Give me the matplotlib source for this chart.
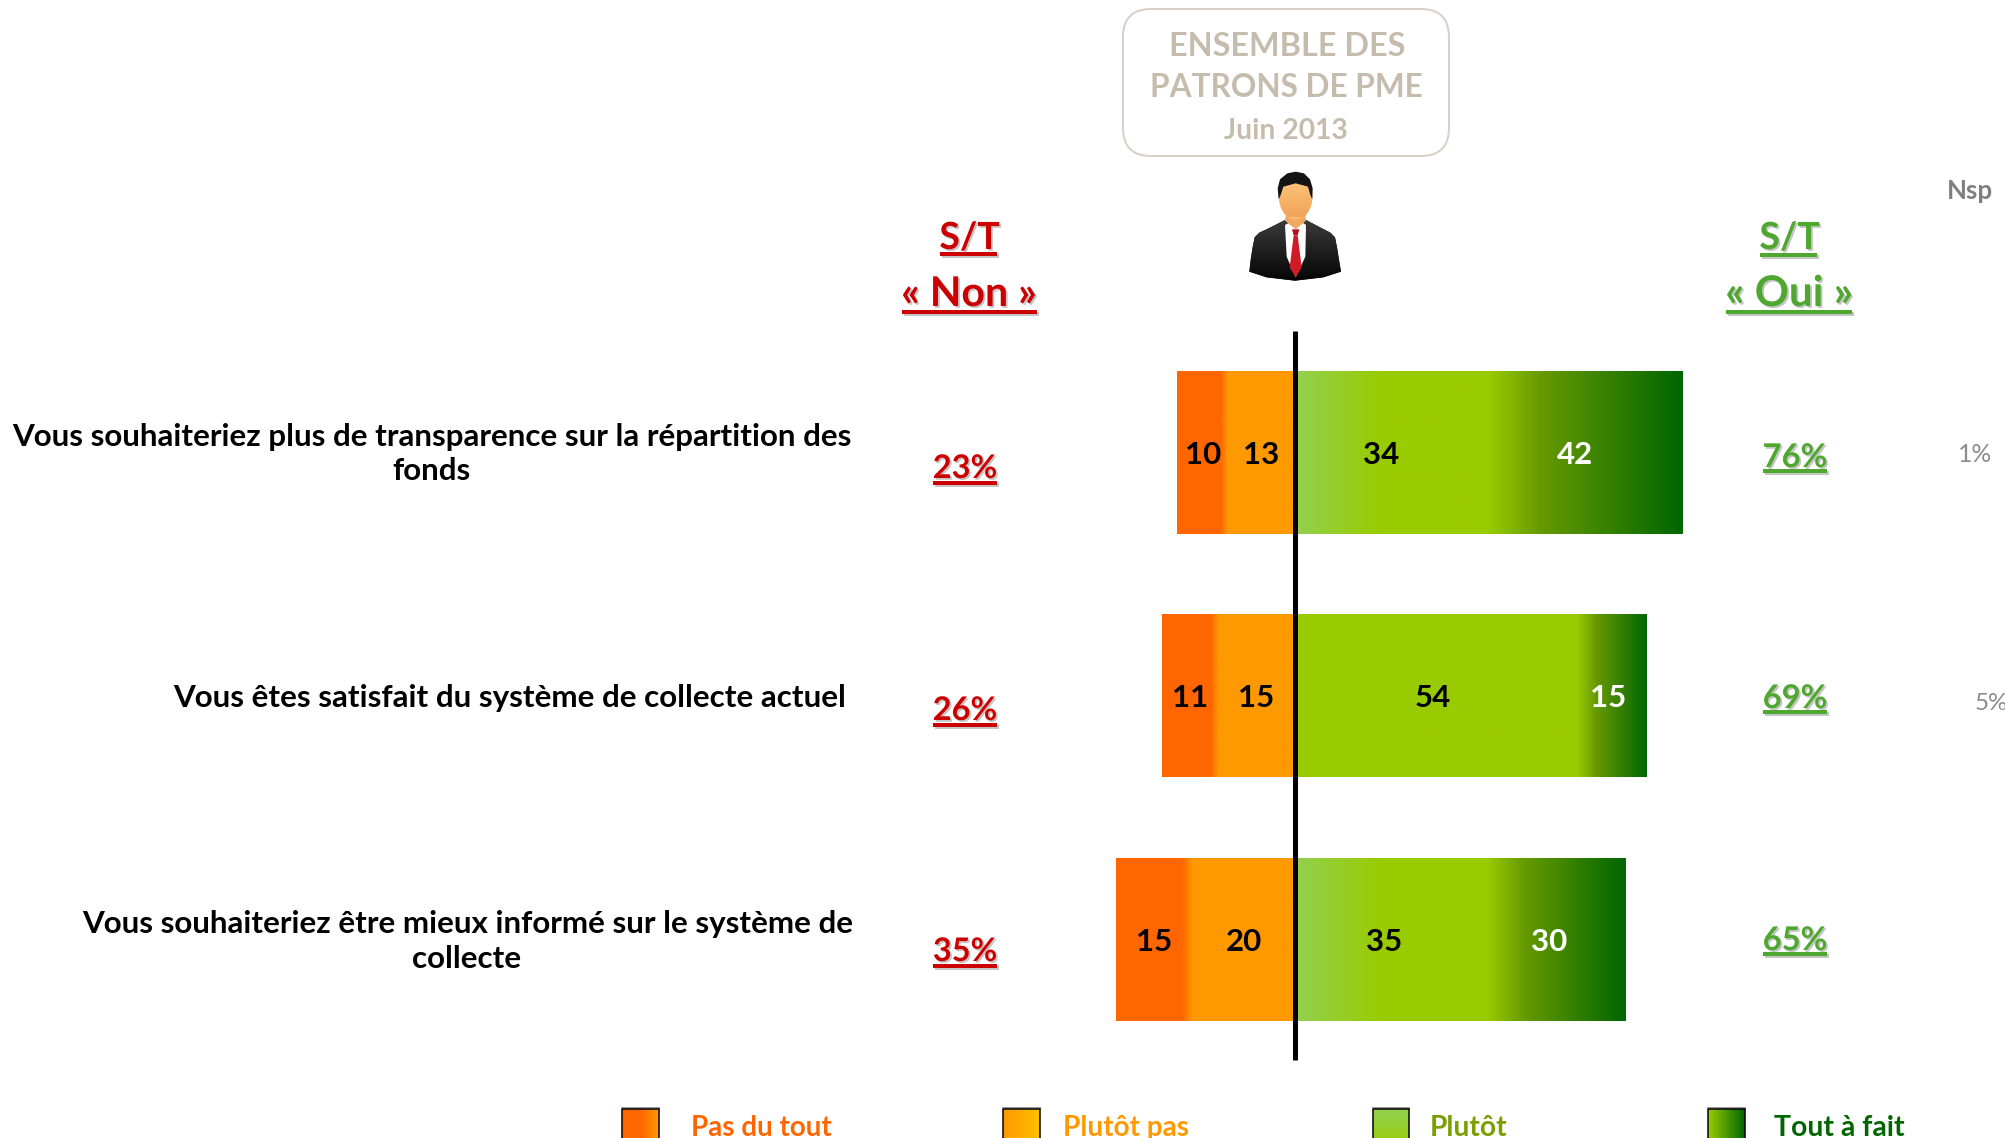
import numpy as np
import matplotlib
matplotlib.use("Agg")
import matplotlib.pyplot as plt
from matplotlib.colors import LinearSegmentedColormap as LSC
from matplotlib.font_manager import FontProperties
from matplotlib.patches import FancyBboxPatch, Polygon, Ellipse, Rectangle
from matplotlib.textpath import TextPath
import matplotlib.patheffects as pe

# ---------- data ----------
questions = [
    ["Vous souhaiteriez plus de transparence sur la répartition des", "fonds"],
    ["Vous êtes satisfait du système de collecte actuel"],
    ["Vous souhaiteriez être mieux informé sur le système de", "collecte"],
]
pas_du_tout = [10, 11, 15]
plutot_pas = [13, 15, 20]
plutot = [34, 54, 35]
tout_a_fait = [42, 15, 30]
st_non = [23, 26, 35]
st_oui = [76, 69, 65]
nsp = [1, 5, None]
legend_labels = ["Pas du tout", "Plutôt pas", "Plutôt", "Tout à fait"]

# ---------- style ----------
W, H, DPI = 2006, 1138, 100
FONT = "Lato"
ORANGE, AMBER, LIME, DARK = "#FF6600", "#FF9900", "#99CC00", "#006600"
LIGHT, MID = "#92D050", "#669900"
RED, GREEN, TAUPE = "#CC0000", "#4EA72E", "#C6BCAE"
ZERO_PX, PX_PER_UNIT = 1294.6, 5.1
ROW0_PX, ROW_STEP = 452.5, 243.5
BAR_H = 163 / ROW_STEP

fig = plt.figure(figsize=(W / DPI, H / DPI), dpi=DPI, facecolor="white")
ax = fig.add_axes([0, 0, 1, 1], zorder=1)
ov = fig.add_axes([0, 0, 1, 1], zorder=2)
ov.patch.set_alpha(0)
ov.set_xlim(0, W)
ov.set_ylim(H, 0)
ov.axis("off")
ax.axis("off")


def fit(txt, width, weight="bold"):
    """Font size in points giving `txt` the requested pixel width."""
    fp = FontProperties(family=FONT, weight=weight, size=100)
    w = TextPath((0, 0), txt, prop=fp).get_extents().width
    return 100 * width / w * 72 / DPI


def grad_bar(y, left, width, stops):
    bar = ax.barh(y, width, left=left, height=BAR_H, color=stops[-1][1], linewidth=0)[0]
    cmap = LSC.from_list("g", stops, N=512)
    im = ax.imshow(np.linspace(0, 1, 512)[None, :], cmap=cmap, vmin=0, vmax=1, aspect="auto",
                   extent=(left, left + width, y + BAR_H / 2, y - BAR_H / 2),
                   interpolation="bilinear", zorder=2)
    im.set_clip_path(bar)


# ---------- bars ----------
stops_pdt = [(0, ORANGE), (0.86, ORANGE), (1, AMBER)]
stops_pp = [(0, AMBER), (1, AMBER)]
stops_plutot_light = [(0, LIGHT), (0.5, LIME), (1, LIME)]
stops_plutot_flat = [(0, LIME), (1, LIME)]
stops_taf = [(0, LIME), (0.09, LIME), (0.34, MID), (1, DARK)]

for i in range(len(questions)):
    a, b, c, d = pas_du_tout[i], plutot_pas[i], plutot[i], tout_a_fait[i]
    grad_bar(i, -(a + b), a, stops_pdt)
    grad_bar(i, -b, b, stops_pp)
    grad_bar(i, 0, c, stops_plutot_flat if c > 50 else stops_plutot_light)
    grad_bar(i, c, d, stops_taf)
    for val, cx, col in [(a, -(b + a / 2), "black"), (b, -b / 2, "black"),
                         (c, c / 2, "black"), (d, c + d / 2, "white")]:
        ax.text(cx, i, str(val), ha="center", va="center_baseline", color=col,
                family=FONT, weight="bold", fontsize=22.5, zorder=4)

ax.plot([0, 0], [-0.5, 2.495], color="black", lw=5 * 72 / DPI, solid_capstyle="butt", zorder=3)
ax.set_xlim(-ZERO_PX / PX_PER_UNIT, (W - ZERO_PX) / PX_PER_UNIT)
ax.set_ylim((H - ROW0_PX) / ROW_STEP, -ROW0_PX / ROW_STEP)

# ---------- question labels ----------
q_size = fit(questions[0][0], 839)
q_pos = [[(432, 434), (432, 468)], [(510, 695)], [(467.5, 921), (467, 956)]]
for lines, pos in zip(questions, q_pos):
    for ln, (x, y) in zip(lines, pos):
        ov.text(x, y, ln, ha="center", va="center_baseline", family=FONT, weight="bold",
                fontsize=q_size, color="black")

# ---------- S/T columns ----------
shadow = [pe.withSimplePatchShadow(offset=(1.3, -1.3), shadow_rgbFace="#808080", alpha=0.45)]
line_shadow = [pe.SimpleLineShadow(offset=(1.3, -1.3), shadow_color="#808080", alpha=0.45), pe.Normal()]


def under_text(txt, cx, base, width, col, ul_y, ul_x0, ul_x1, ul_lw=4):
    ov.text(cx, base, txt, ha="center", va="baseline", family=FONT, weight="bold",
            fontsize=fit(txt, width), color=col, path_effects=shadow)
    ov.plot([ul_x0, ul_x1], [ul_y, ul_y], color=col, lw=ul_lw * 72 / DPI,
            solid_capstyle="butt", path_effects=line_shadow)


under_text("S/T", 969.5, 249, 59, RED, 254, 940, 997)
under_text("« Non »", 969, 306, 132, RED, 312, 902, 1037)
under_text("S/T", 1789.5, 249, 59, GREEN, 255, 1760, 1817)
under_text("« Oui »", 1789, 306, 124, GREEN, 312, 1726, 1852)

non_base = [478, 720, 961]
oui_base = [467, 708, 950]
for v, b in zip(st_non, non_base):
    under_text(f"{v}%", 965, b, 62, RED, b + 5, 933, 997)
for v, b in zip(st_oui, oui_base):
    under_text(f"{v}%", 1795, b, 62, GREEN, b + 4, 1763, 1827)

ov.text(1969.5, 199, "Nsp", ha="center", va="baseline", family=FONT, weight="bold",
        fontsize=fit("Nsp", 43), color="#7F7F7F")
nsp_x = [1975.5, 1991]
nsp_base = [462, 710]
for v, x, b in zip([n for n in nsp if n is not None], nsp_x, nsp_base):
    ov.text(x, b, f"{v}%", ha="center", va="baseline", family=FONT, weight="normal",
            fontsize=fit(f"{v}%", 31, "normal"), color="#8C8C8C")

# ---------- title box ----------
ov.add_patch(FancyBboxPatch((1123 + 28, 9 + 28), 326 - 56, 147 - 56,
                            boxstyle="round,pad=28,rounding_size=28",
                            fc="white", ec="#D8D0C5", lw=2 * 72 / DPI))
for txt, cx, base, w in [("ENSEMBLE DES", 1287, 56, 232), ("PATRONS DE PME", 1286, 97, 270),
                         ("Juin 2013", 1286, 139, 122)]:
    ov.text(cx, base, txt, ha="center", va="baseline", family=FONT, weight="bold",
            fontsize=fit(txt, w), color=TAUPE)


# ---------- man icon ----------
def P(pts):
    return [(1230 + x / 3, 160 + y / 3) for x, y in pts]


def vgrad(patch, c0, c1, x0, x1, y0, y1, horiz=False, z=3):
    ov.add_patch(patch)
    arr = np.linspace(0, 1, 128)[None, :] if horiz else np.linspace(0, 1, 128)[:, None]
    im = ov.imshow(arr, cmap=LSC.from_list("m", [c0, c1]), aspect="auto",
                   extent=(x0, x1, y1, y0), zorder=z, interpolation="bilinear")
    im.set_clip_path(patch)
    ov.set_xlim(0, W)
    ov.set_ylim(H, 0)


jacket = Polygon(P([(165, 180), (120, 203), (88, 218), (74, 232), (68, 262), (62, 300), (58, 335),
                    (110, 352), (195, 362), (280, 352), (333, 335), (327, 300), (321, 262),
                    (315, 232), (301, 218), (272, 203), (228, 180)]),
                 closed=True, fc="#111111", ec="none", zorder=3)
vgrad(jacket, "#3A3A3A", "#050505", 1249, 1341, 220, 281, z=3)
shirt = Polygon(P([(165, 195), (178, 188), (218, 188), (228, 195), (226, 290), (197, 352), (170, 290)]),
                closed=True, fc="white", ec="none", zorder=4)
ov.add_patch(shirt)
neck = Polygon(P([(170, 150), (225, 150), (228, 182), (197, 208), (165, 182)]),
               closed=True, fc="#F0A860", ec="none", zorder=5)
ov.add_patch(neck)
ov.add_patch(Polygon(P([(186, 208), (208, 208), (203, 226), (191, 226)]),
                     closed=True, fc="#B01020", ec="none", zorder=6))
ov.add_patch(Polygon(P([(191, 226), (203, 226), (215, 322), (197, 352), (179, 322)]),
                     closed=True, fc="#D01C28", ec="none", zorder=6))
face = Ellipse(P([(197, 110)])[0], 100 / 3, 138 / 3, fc="#FBBB70", ec="none", zorder=6)
vgrad(face, "#FFC880", "#F0A458", 1277, 1312, 175, 217, z=6)
ov.add_patch(Polygon(P([(143, 85), (150, 58), (172, 40), (197, 35), (222, 40), (240, 58), (248, 85),
                        (247, 118), (241, 105), (234, 80), (197, 70), (160, 80), (152, 105), (146, 118)]),
                     closed=True, fc="#141414", ec="none", zorder=7))

# ---------- legend ----------
sw_x = [(622, 659), (1003, 1040), (1373, 1409), (1708, 1745)]
tx = [(693, 831), (1066, 1189), (1432, 1507), (1775, 1905)]
txt_col = [ORANGE, AMBER, "#7A9F00", DARK]
sw_stops = [([ORANGE, ORANGE, AMBER], True), ([AMBER, "#FFC000"], True),
            ([LIGHT, LIME], False), ([LIME, DARK], True)]
for lab, (x0, x1), (t0, t1), col, (cs, hz) in zip(legend_labels, sw_x, tx, txt_col, sw_stops):
    ov.add_patch(Rectangle((x0 - 1, 1107), x1 - x0 + 2, 3, fc="#9A9A9A", ec="none", zorder=3))
    r = Rectangle((x0, 1109), x1 - x0, 40, fc=cs[-1], ec="none", zorder=3)
    ov.add_patch(r)
    arr = np.linspace(0, 1, 128)[None, :] if hz else np.linspace(0, 1, 128)[:, None]
    im = ov.imshow(arr, cmap=LSC.from_list("s", cs), aspect="auto", extent=(x0, x1, 1149, 1109),
                   zorder=3, interpolation="bilinear")
    im.set_clip_path(r)
    ov.add_patch(Rectangle((x0, 1109), x1 - x0, 40, fc="none", ec="black", lw=1.5 * 72 / DPI, zorder=4))
    ov.text((t0 + t1) / 2 - 1, 1136, lab, ha="center", va="baseline", family=FONT, weight="bold",
            fontsize=fit(lab, t1 - t0), color=col)
ov.set_xlim(0, W)
ov.set_ylim(H, 0)

fig.savefig("out.png", dpi=DPI, facecolor="white")
